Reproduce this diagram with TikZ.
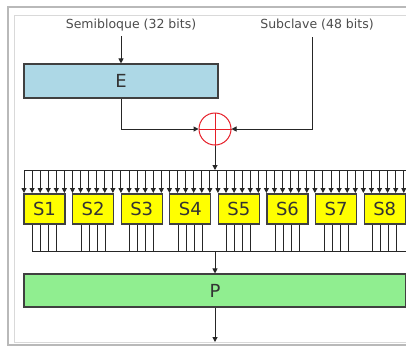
\documentclass[tikz,border=0pt]{standalone}
\usepackage{fontspec}
\setmainfont{DejaVu Sans}
\usetikzlibrary{arrows.meta}
\definecolor{eblue}{RGB}{173,216,230}
\definecolor{pgreen}{RGB}{144,238,144}
\definecolor{sbyellow}{RGB}{255,255,0}
\definecolor{xred}{RGB}{230,30,40}
\tikzset{
  box/.style={draw=black!75, line width=1.1pt, inner sep=0pt, font=\fontsize{18}{18}\selectfont, text=black!80},
  lbl/.style={inner sep=0pt, font=\fontsize{12.5}{14}\selectfont, text=black!70},
  arr/.style={-{Triangle[width=5pt,length=5pt]}, line width=1pt, black!85},
  wire/.style={line width=1pt, black!85},
}
\begin{document}
\begin{tikzpicture}[x=1pt,y=-1pt]
\clip (0,0) rectangle (406,346);
\fill[white] (0,0) rectangle (406,346);
% frame
\draw[gray!55, line width=1.6pt] (8,7) rectangle (430,345);
\draw[gray!30, line width=0.8pt] (14,15) rectangle (424,342);
% labels
\node[lbl] (sem) at (131,25) {Semibloque (32 bits)};
\node[lbl] (sub) at (317,25) {Subclave (48 bits)};
% E box
\node[box, fill=eblue, minimum width=194pt, minimum height=34pt] (E) at (121,81) {E};
\coordinate (kin) at (312,37);
% XOR
\node[draw=xred, line width=1pt, circle, minimum size=32pt, inner sep=0pt] (X) at (215,129) {};
\draw[xred, line width=0.8pt] (X.north) -- (X.south) (X.west) -- (X.east);
\draw[arr] (E.north |- sem.south) ++(0,5) -- (E.north);
\draw[arr] (E.south) |- (X.west);
\draw[arr] (kin) |- (X.east);
% bus top
\coordinate (bt) at (215,170);
\draw[arr] (X.south) -- (bt);
\draw[wire] (24,170) -- (406,170);
\foreach \k in {0,...,47}{
  \draw[arr] ({24+8.08*\k},170) -- ({24+8.08*\k},193);
}
% S boxes
\foreach \i in {1,...,8}{
  \node[box, fill=sbyellow, minimum width=41pt, minimum height=30pt] (S\i) at ({44.5+48.6*(\i-1)},209) {S\i};
  \foreach \d in {-12,-4,4,12}{
    \draw[wire] ([xshift=\d pt]S\i.south) -- ++(0,27);
  }
}
\draw[wire] (32.5,251) -- (406,251);
% P box
\coordinate (bb) at (215,251);
\node[box, fill=pgreen, minimum width=382pt, minimum height=33pt] (P) at (215,290.5) {P};
\draw[arr] (bb) -- (P.north);
\coordinate (pout) at (215,342);
\draw[arr] (P.south) -- (pout);
\end{tikzpicture}
\end{document}
